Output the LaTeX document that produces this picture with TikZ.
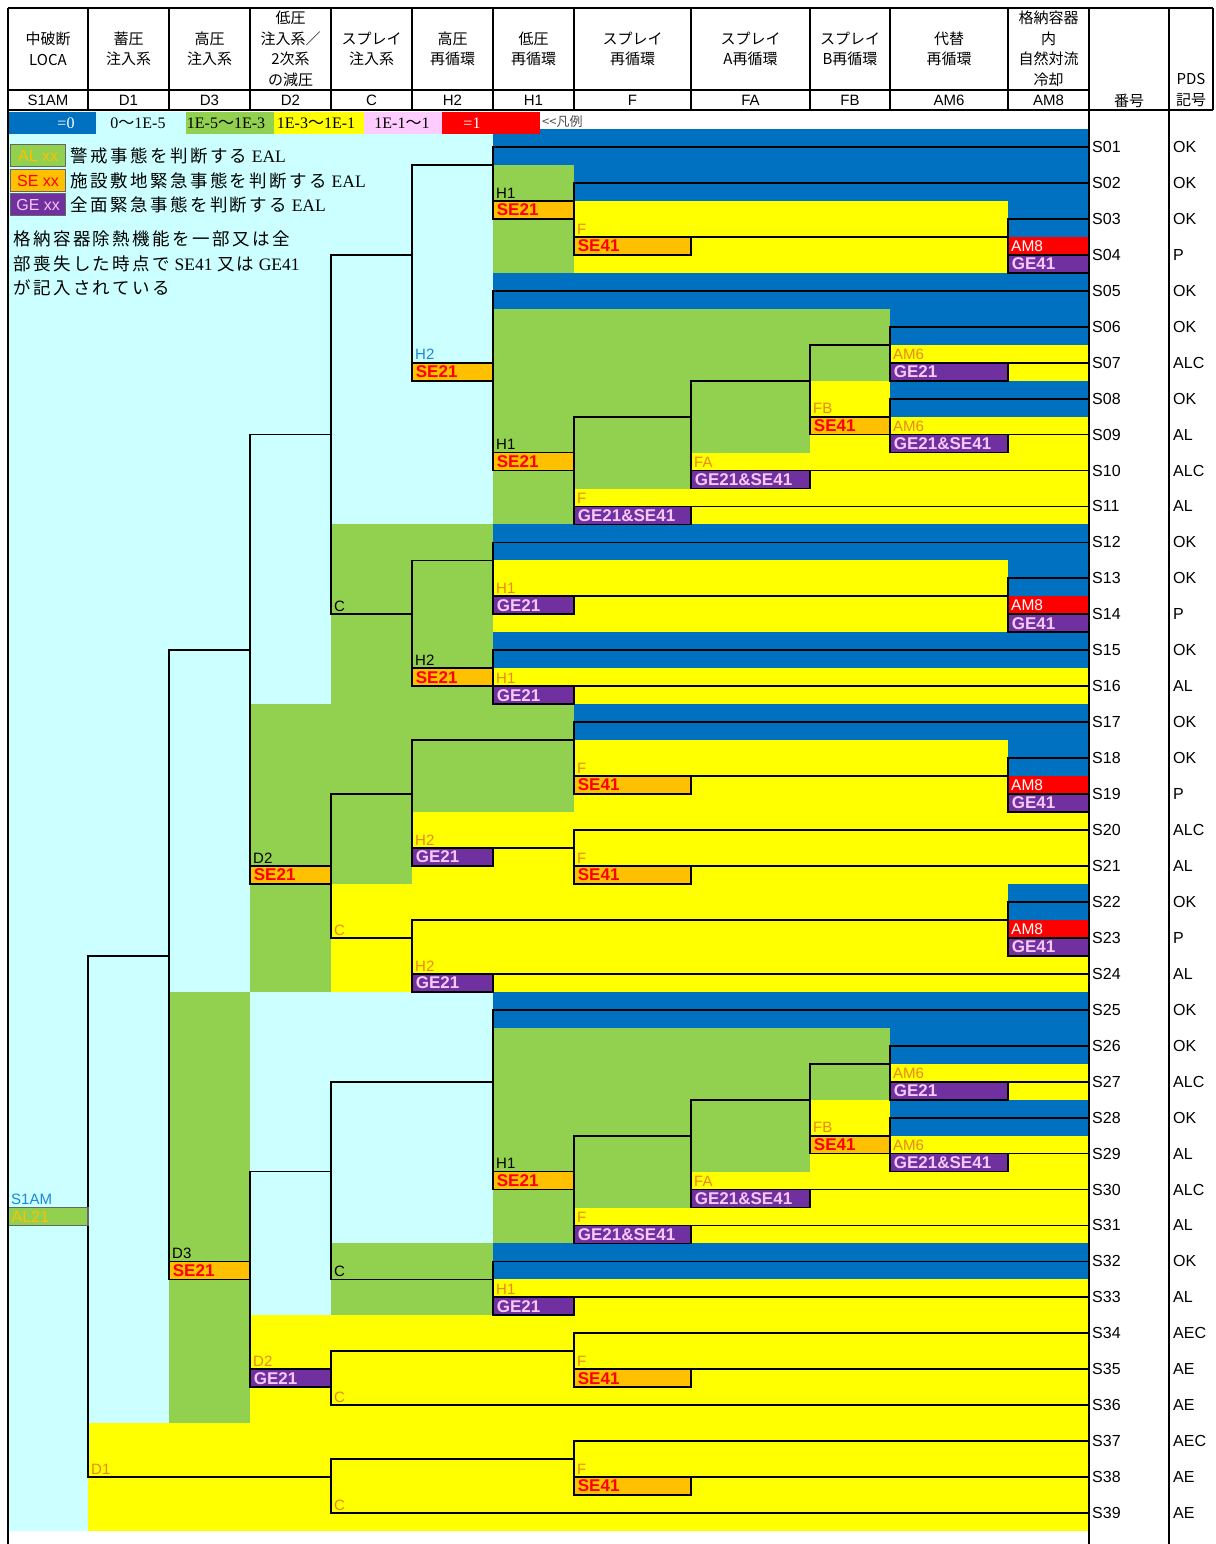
\documentclass[tikz,border=0pt]{standalone}
\usepackage{fontspec}
\setmainfont{Liberation Serif}
\setsansfont{Liberation Sans}
\newfontfamily\jp{Noto Sans CJK JP}
\newfontfamily\jpwide[LetterSpace=14]{Noto Sans CJK JP}
\usetikzlibrary{positioning}

\definecolor{exblue}{RGB}{0,112,192}
\definecolor{excyan}{RGB}{204,255,255}
\definecolor{exgreen}{RGB}{146,208,80}
\definecolor{exyellow}{RGB}{255,255,0}
\definecolor{expink}{RGB}{255,204,255}
\definecolor{exred}{RGB}{255,0,0}
\definecolor{seorange}{RGB}{255,192,0}
\definecolor{gepurple}{RGB}{112,48,160}
\definecolor{gepink}{RGB}{245,200,245}
\definecolor{lblorange}{RGB}{232,135,30}
\definecolor{lblblue}{RGB}{30,135,215}

\tikzset{
  frame/.style={line width=2.4pt},
  tline/.style={line width=1.8pt, line cap=rect},
  sebox/.style={draw=black, line width=1.8pt, fill=seorange, text=exred,
    font=\sffamily\bfseries\fontsize{17}{18}\selectfont},
  gebox/.style={draw=black, line width=1.8pt, fill=gepurple, text=gepink,
    font=\sffamily\bfseries\fontsize{17}{18}\selectfont},
  albox/.style={draw=black!60, line width=1.2pt, fill=exgreen, text=seorange,
    font=\sffamily\fontsize{16}{18}\selectfont},
  ambox/.style={fill=exred, text=white, font=\sffamily\fontsize{15.5}{18}\selectfont},
  boxtxt/.style={anchor=west, inner sep=0pt, xshift=3pt},
  brlbl/.style={anchor=south west, inner sep=0pt, xshift=3pt, yshift=2.5pt,
    font=\sffamily\fontsize{15}{16}\selectfont},
  seqlbl/.style={anchor=west, inner sep=0pt, font=\sffamily\fontsize{16}{17}\selectfont},
  hdname/.style={align=center, inner sep=0pt, font=\jp\fontsize{15}{20.5}\selectfont},
  hdcode/.style={inner sep=0pt, font=\sffamily\fontsize{15}{16}\selectfont},
  keycell/.style={inner sep=0pt, font=\rmfamily\fontsize{16}{18}\selectfont},
  keybox/.style={minimum width=55pt, minimum height=22pt, anchor=north west, inner sep=0pt},
  keydesc/.style={inner sep=0pt, anchor=west, font=\rmfamily\fontsize{17.5}{20}\selectfont}
}

\begin{document}
\begin{tikzpicture}[x=1pt, y=-1pt]
\useasboundingbox (0,0) rectangle (1215,1544);

% colour bands of the tree (y in half rows)
\begin{scope}[yshift=-129pt, y=-17.975pt]
  \fill[exyellow] (8,0) rectangle (1089,78);
  \foreach \xa/\xb/\ka/\kb in {8/88/0/78, 88/169/0/72, 169/250/0/48, 250/331/0/32,
      250/331/48/66, 331/493/0/22, 331/493/48/62}
    \fill[excyan] (\xa,\ka) rectangle (\xb,\kb);
  \foreach \xa/\xb/\ka/\kb in {169/250/48/72, 250/331/32/48, 331/493/22/38, 331/412/38/42,
      331/493/62/66, 493/574/2/8, 493/574/10/22, 574/691/10/20, 691/810/10/18,
      810/890/10/14, 493/574/32/38, 493/574/50/62, 574/691/50/60, 691/810/50/58,
      810/890/50/54}
    \fill[exgreen] (\xa,\ka) rectangle (\xb,\kb);
  \foreach \xa/\ka/\kb in {493/0/2, 574/2/4, 1008/4/6, 493/8/10, 890/10/12, 890/14/16,
      493/22/24, 1008/24/26, 493/28/30, 574/32/34, 1008/34/36, 1008/42/44,
      493/48/50, 890/50/52, 890/54/56, 493/62/64}
    \fill[exblue] (\xa,\ka) rectangle (1089,\kb);
\end{scope}

% legend row
\foreach \xa/\xb/\col/\tc/\px/\s [count=\i] in {8/96/exblue/white/66/{=0},
    96/186/excyan/black/138/{0{\jp ～}1E-5}, 186/274/exgreen/black/226/{1E-5{\jp ～}1E-3},
    274/364/exyellow/black/316/{1E-3{\jp ～}1E-1}, 364/442/expink/black/402/{1E-1{\jp ～}1},
    442/540/exred/white/472/{=1}}
{
  \fill[\col] (\xa,112) rectangle (\xb,134);
  \node[keycell, text=\tc] (key\i) at (\px,123) {\s};
}
\node[inner sep=0pt, anchor=west, text=black!70, font=\jp\fontsize{13}{15}\selectfont] (keyref) at (542,122) {<<凡例};

% EAL key
\node[keybox, albox] (alkey) at (10,144) {AL xx};
\node[keydesc, right=4pt of alkey] (aldesc) {{\jpwide 警戒事態を判断する} EAL};
\node[keybox, sebox, draw=black!60, line width=1.2pt, font=\sffamily\fontsize{16}{18}\selectfont] (sekey) at (10,169) {SE xx};
\node[keydesc, right=4pt of sekey] (sedesc) {{\jpwide 施設敷地緊急事態を判断する} EAL};
\node[keybox, gebox, draw=black!60, line width=1.2pt, font=\sffamily\fontsize{16}{18}\selectfont] (gekey) at (10,193) {GE xx};
\node[keydesc, right=4pt of gekey] (gedesc) {{\jpwide 全面緊急事態を判断する} EAL};
\node[keydesc] (note1) at (13,239) {\jpwide 格納容器除熱機能を一部又は全};
\node[keydesc] (note2) at (13,264) {{\jpwide 部喪失した時点で} SE41 {\jpwide 又は} GE41};
\node[keydesc] (note3) at (13,288) {\jpwide が記入されている};

\begin{scope}[yshift=-129pt, y=-17.975pt]
  % AM8 heading cells
  \foreach \kr [count=\i] in {6,26,36,44}
    \fill[exred] (1008,\kr) rectangle (1089,\kr+1)
      node[ambox, boxtxt] (am\i) at (1008,\kr+0.5) {AM8};

  % branch lines
  \foreach \xa/\xb/\kr in {8/88/60, 88/169/46, 88/331/75, 169/250/29, 169/250/63,
      250/331/17, 250/331/41, 331/412/7, 331/412/27, 412/493/2, 412/493/13,
      493/1089/1, 493/574/4, 574/1089/3, 574/1008/6, 1008/1089/5, 1008/1089/7,
      493/1089/9, 493/574/18, 574/691/16, 574/1089/21, 691/810/14, 691/1089/19,
      810/890/12, 810/890/16, 890/1089/11, 890/1089/13, 890/1089/15, 890/1089/17,
      412/493/24, 412/493/30, 493/1089/23, 493/1008/26, 1008/1089/25, 1008/1089/27,
      493/1089/29, 493/1089/31, 331/412/37, 331/412/45, 412/574/34, 412/574/40,
      574/1089/33, 574/1008/36, 1008/1089/35, 1008/1089/37, 574/1089/39, 574/1089/41,
      412/1008/44, 412/1089/47, 1008/1089/43, 1008/1089/45, 250/331/58, 250/331/69,
      331/493/53, 331/493/64, 493/1089/49, 493/574/58, 574/691/56, 574/1089/61,
      691/810/54, 691/1089/59, 810/890/52, 810/890/56, 890/1089/51, 890/1089/53,
      890/1089/55, 890/1089/57, 493/1089/63, 493/1089/65, 331/574/68, 331/1089/71,
      574/1089/67, 574/1089/69, 331/574/74, 331/1089/77, 574/1089/73, 574/1089/75}
    \draw[tline] (\xa,\kr) -- (\xb,\kr);
  \foreach \x/\ka/\kb in {88/46/75, 169/29/64, 250/17/42, 331/7/27, 412/2/14, 493/1/5,
      574/3/7, 1008/5/8, 493/9/19, 574/16/22, 691/14/20, 810/12/17, 890/11/14,
      890/15/18, 412/24/31, 493/23/27, 1008/25/28, 493/29/32, 331/37/45, 412/34/41,
      574/33/37, 1008/35/38, 574/39/42, 412/44/48, 1008/43/46, 250/58/70, 331/53/64,
      493/49/59, 574/56/62, 691/54/60, 810/52/57, 890/51/54, 890/55/58, 493/63/66,
      331/68/71, 574/67/70, 331/74/77, 574/73/76}
    \draw[tline] (\x,\ka) -- (\x,\kb);

  % EAL boxes
  \foreach \xa/\xb/\kr/\bx/\s [count=\i] in {8/88/60/albox/AL21,
      169/250/63/sebox/SE21, 250/331/41/sebox/SE21, 412/493/13/sebox/SE21,
      493/574/4/sebox/SE21, 574/691/6/sebox/SE41, 1008/1089/7/gebox/GE41,
      493/574/18/sebox/SE21, 574/691/21/gebox/GE21\&SE41, 691/810/19/gebox/GE21\&SE41,
      810/890/16/sebox/SE41, 890/1008/13/gebox/GE21, 890/1008/17/gebox/GE21\&SE41,
      412/493/30/sebox/SE21, 493/574/26/gebox/GE21, 1008/1089/27/gebox/GE41,
      493/574/31/gebox/GE21, 412/493/40/gebox/GE21, 574/691/36/sebox/SE41,
      1008/1089/37/gebox/GE41, 574/691/41/sebox/SE41, 1008/1089/45/gebox/GE41,
      412/493/47/gebox/GE21, 250/331/69/gebox/GE21, 493/574/58/sebox/SE21,
      574/691/61/gebox/GE21\&SE41, 691/810/59/gebox/GE21\&SE41, 810/890/56/sebox/SE41,
      890/1008/53/gebox/GE21, 890/1008/57/gebox/GE21\&SE41, 493/574/65/gebox/GE21,
      574/691/69/sebox/SE41, 574/691/75/sebox/SE41}
    \draw[\bx] (\xa,\kr) rectangle (\xb,\kr+1)
      node[boxtxt] (eal\i) at (\xa,\kr+0.5) {\s};

  % heading labels on the branches
  \foreach \x/\kr/\s/\col [count=\i] in {8/60/S1AM/lblblue, 88/75/D1/lblorange,
      169/63/D3/black, 250/41/D2/black, 250/69/D2/lblorange, 331/27/C/black,
      331/45/C/lblorange, 331/64/C/black, 331/71/C/lblorange, 331/77/C/lblorange,
      412/13/H2/lblblue, 412/30/H2/black, 412/40/H2/lblorange, 412/47/H2/lblorange,
      493/4/H1/black, 493/18/H1/black, 493/26/H1/lblorange, 493/31/H1/lblorange,
      493/58/H1/black, 493/65/H1/lblorange, 574/6/F/lblorange, 574/21/F/lblorange,
      574/36/F/lblorange, 574/41/F/lblorange, 574/61/F/lblorange, 574/69/F/lblorange,
      574/75/F/lblorange, 691/19/FA/lblorange, 691/59/FA/lblorange,
      810/16/FB/lblorange, 810/56/FB/lblorange, 890/13/AM6/lblorange,
      890/17/AM6/lblorange, 890/53/AM6/lblorange, 890/57/AM6/lblorange}
    \node[brlbl, text=\col] (br\i) at (\x,\kr) {\s};

  % sequence numbers and PDS codes
  \foreach \p [count=\i] in {OK,OK,OK,P,OK,OK,ALC,OK,AL,ALC,AL,OK,OK,P,OK,AL,OK,OK,P,
      ALC,AL,OK,P,AL,OK,OK,ALC,OK,AL,ALC,AL,OK,AL,AEC,AE,AE,AEC,AE,AE}
  {
    \node[seqlbl] (seq\i) at (1092,2*\i-1) {S\ifnum\i<10 0\fi\i};
    \node[seqlbl] (pds\i) at (1173,2*\i-1) {\p};
  }
\end{scope}

% heading table
\foreach \xa/\xb/\s/\cd [count=\i] in {8/88/{中破断\\LOCA}/S1AM, 88/169/{蓄圧\\注入系}/D1,
    169/250/{高圧\\注入系}/D3, 250/331/{低圧\\注入系／\\2次系\\の減圧}/D2,
    331/412/{スプレイ\\注入系}/C, 412/493/{高圧\\再循環}/H2, 493/574/{低圧\\再循環}/H1,
    574/691/{スプレイ\\再循環}/F, 691/810/{スプレイ\\A再循環}/FA,
    810/890/{スプレイ\\B再循環}/FB, 890/1008/{代替\\再循環}/AM6,
    1008/1089/{格納容器\\内\\自然対流\\冷却}/AM8}
{
  \node[hdname] (hd\i) at ({(\xa+\xb)/2},49) {\s};
  \node[hdcode] (cd\i) at ({(\xa+\xb)/2},100) {\cd};
}
\node[hdname] (hdnum) at (1129,101) {番号};
\node[hdname] (hdpds) at (1191,90) {PDS\\記号};

\draw[frame] (8,8) -- (1213,8);
\draw[frame] (8,90) -- (1089,90);
\draw[frame] (8,110) -- (1213,110);
\draw[frame] (1213,8) -- (1213,110);
\foreach \x in {88,169,250,331,412,493,574,691,810,890,1008}
  \draw[frame] (\x,8) -- (\x,110);
\foreach \x in {8,1089,1169}
  \draw[frame] (\x,8) -- (\x,1544);
\end{tikzpicture}
\end{document}
